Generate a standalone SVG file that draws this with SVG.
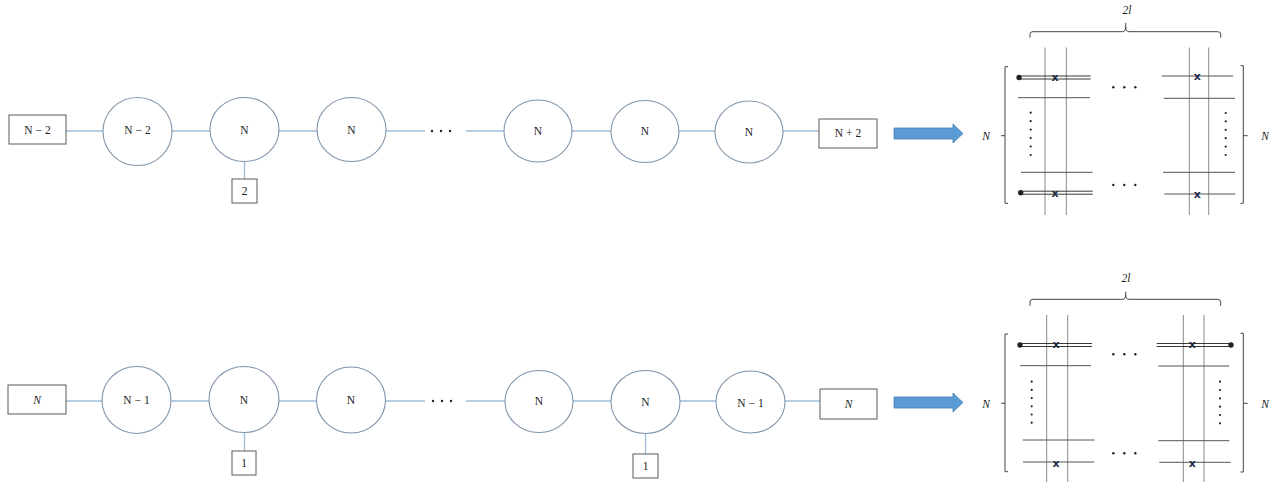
<svg xmlns="http://www.w3.org/2000/svg" width="1282" height="482" viewBox="0 0 1282 482">
<style>
.bg{fill:#ffffff}
.conn{stroke:#9fbcd8;stroke-width:1.3;fill:none}
.ell{fill:#ffffff;stroke:#8095ab;stroke-width:1.1}
.box{fill:#ffffff;stroke:#5a5a5a;stroke-width:1}
.lbl{font-family:"Liberation Serif",serif;font-size:11.5px;fill:#222;text-anchor:middle;dominant-baseline:central}
.it{font-style:italic}
.dot{fill:#222}
.vl{stroke:#8a8a8a;stroke-width:1;fill:none}
.hl{stroke:#555;stroke-width:1;fill:none}
.dl{stroke:#222;stroke-width:0.9;fill:none}
.br{stroke:#444;stroke-width:1;fill:none}
.xm{font-family:"DejaVu Sans",sans-serif;font-size:11px;font-weight:bold;fill:#1f2a44;text-anchor:middle;dominant-baseline:central}
.arrow{fill:#5b9bd5;stroke:#4a7fb0;stroke-width:0.8}
</style>
<rect class="bg" x="0" y="0" width="1282" height="482"/>

<g id="connectors">
  <line class="conn" x1="66" y1="131" x2="103" y2="131"/>
  <line class="conn" x1="172" y1="131" x2="210" y2="131"/>
  <line class="conn" x1="279" y1="131" x2="317" y2="131"/>
  <line class="conn" x1="386" y1="131" x2="425" y2="131"/>
  <line class="conn" x1="466" y1="131" x2="504" y2="131"/>
  <line class="conn" x1="572" y1="131" x2="611" y2="131"/>
  <line class="conn" x1="679" y1="131" x2="715" y2="131"/>
  <line class="conn" x1="783" y1="131" x2="819" y2="131"/>
  <line class="conn" x1="244.5" y1="161" x2="244.5" y2="179"/>
  <line class="conn" x1="66" y1="401" x2="102" y2="401"/>
  <line class="conn" x1="171" y1="401" x2="209" y2="401"/>
  <line class="conn" x1="279" y1="401" x2="317" y2="401"/>
  <line class="conn" x1="386" y1="401" x2="425" y2="401"/>
  <line class="conn" x1="466" y1="401" x2="505" y2="401"/>
  <line class="conn" x1="573" y1="401" x2="611" y2="401"/>
  <line class="conn" x1="680" y1="401" x2="716" y2="401"/>
  <line class="conn" x1="785" y1="401" x2="820" y2="401"/>
  <line class="conn" x1="244.5" y1="432" x2="244.5" y2="451"/>
  <line class="conn" x1="645.5" y1="433" x2="645.5" y2="454"/>
</g>

<g id="t_box_left"><rect class="box" x="9" y="115" width="57" height="29"/><text class="lbl" x="37.5" y="129.5">N − 2</text></g>
<g id="t_e1"><ellipse class="ell" cx="137.5" cy="131.5" rx="34.5" ry="34"/><text class="lbl" x="137.5" y="130">N − 2</text></g>
<g id="t_e2"><ellipse class="ell" cx="244.5" cy="129.5" rx="34.5" ry="32"/><text class="lbl" x="244.5" y="130">N</text></g>
<g id="t_e3"><ellipse class="ell" cx="351.5" cy="129.5" rx="34.5" ry="32"/><text class="lbl" x="351.5" y="130">N</text></g>
<g id="t_dots"><circle class="dot" cx="432" cy="131" r="1.2"/><circle class="dot" cx="441" cy="131" r="1.2"/><circle class="dot" cx="450" cy="131" r="1.2"/></g>
<g id="t_e4"><ellipse class="ell" cx="538" cy="131" rx="34" ry="31"/><text class="lbl" x="538" y="131">N</text></g>
<g id="t_e5"><ellipse class="ell" cx="645" cy="131.5" rx="34" ry="31"/><text class="lbl" x="645" y="131">N</text></g>
<g id="t_e6"><ellipse class="ell" cx="749" cy="132" rx="34" ry="31"/><text class="lbl" x="749" y="132">N</text></g>
<g id="t_box_right"><rect class="box" x="819" y="119" width="58" height="29"/><text class="lbl" x="848" y="133">N + 2</text></g>
<g id="t_box_2"><rect class="box" x="232" y="179" width="25" height="24"/><text class="lbl" x="244.5" y="191">2</text></g>
<g id="t_arrow"><polygon class="arrow" points="894,128 953,128 953,124 963,133.5 953,143 953,139 894,139"/></g>

<g id="b_box_left"><rect class="box" x="8" y="385" width="58" height="29"/><text class="lbl it" x="37" y="400">N</text></g>
<g id="b_e1"><ellipse class="ell" cx="136.5" cy="400" rx="34.5" ry="33.5"/><text class="lbl" x="136.5" y="400">N − 1</text></g>
<g id="b_e2"><ellipse class="ell" cx="244" cy="399.5" rx="35" ry="33"/><text class="lbl" x="244" y="400">N</text></g>
<g id="b_e3"><ellipse class="ell" cx="351" cy="400" rx="34.5" ry="33"/><text class="lbl" x="351" y="400">N</text></g>
<g id="b_dots"><circle class="dot" cx="433" cy="401" r="1.2"/><circle class="dot" cx="442" cy="401" r="1.2"/><circle class="dot" cx="451" cy="401" r="1.2"/></g>
<g id="b_e4"><ellipse class="ell" cx="539" cy="401.5" rx="34" ry="31"/><text class="lbl" x="539" y="401">N</text></g>
<g id="b_e5"><ellipse class="ell" cx="645.5" cy="402" rx="34.5" ry="31.5"/><text class="lbl" x="645.5" y="402">N</text></g>
<g id="b_e6"><ellipse class="ell" cx="750.5" cy="402" rx="34.5" ry="31"/><text class="lbl" x="750.5" y="403">N − 1</text></g>
<g id="b_box_right"><rect class="box" x="820" y="389" width="57" height="30"/><text class="lbl it" x="848.5" y="404">N</text></g>
<g id="b_box_1a"><rect class="box" x="232" y="451" width="24" height="24"/><text class="lbl" x="244" y="463">1</text></g>
<g id="b_box_1b"><rect class="box" x="633" y="454" width="25" height="24"/><text class="lbl" x="645.5" y="466">1</text></g>
<g id="b_arrow"><polygon class="arrow" points="894,397 953,397 953,393 963,402.5 953,412 953,408 894,408"/></g>

<g id="t_matrix">
  <text class="lbl it" x="1127" y="10">2l</text>
  <path class="br" d="M1030,37.7 L1030,34 Q1030,31.7 1033,31.7 L1122.5,31.7 Q1125.7,31.7 1125.7,27 L1125.7,23 M1125.7,27 Q1125.7,31.7 1129,31.7 L1217.5,31.7 Q1220.7,31.7 1220.7,34 L1220.7,37.7"/>
  <line class="vl" x1="1045" y1="47.5" x2="1045" y2="215"/>
  <line class="vl" x1="1066.3" y1="47.5" x2="1066.3" y2="215"/>
  <line class="vl" x1="1189.3" y1="47.5" x2="1189.3" y2="215"/>
  <line class="vl" x1="1208.7" y1="47.5" x2="1208.7" y2="215"/>
  <path class="br" d="M1008,66.7 L1005,66.7 L1005,203.3 L1008,203.3 M1005,135.7 L1001,135.7"/>
  <path class="br" d="M1240.5,65.7 L1243.3,65.7 L1243.3,203.3 L1240.5,203.3 M1243.3,135.7 L1247.7,135.7"/>
  <text class="lbl it" x="986" y="136">N</text>
  <text class="lbl it" x="1265" y="136">N</text>
  <circle class="dot" cx="1019" cy="77.5" r="2.7"/>
  <line class="dl" x1="1019" y1="76" x2="1090.7" y2="76"/>
  <line class="dl" x1="1019" y1="79" x2="1090.7" y2="79"/>
  <text class="xm" x="1055" y="77">x</text>
  <line class="hl" x1="1018" y1="97.7" x2="1090" y2="97.7"/>
  <line class="hl" x1="1021" y1="172.3" x2="1092.7" y2="172.3"/>
  <circle class="dot" cx="1020.7" cy="192.7" r="2.7"/>
  <line class="dl" x1="1020.7" y1="191.2" x2="1092.7" y2="191.2"/>
  <line class="dl" x1="1020.7" y1="194.2" x2="1092.7" y2="194.2"/>
  <text class="xm" x="1055" y="193.5">x</text>
  <g>
    <circle class="dot" cx="1030.7" cy="112.7" r="1.1"/><circle class="dot" cx="1030.7" cy="121.2" r="1.1"/><circle class="dot" cx="1030.7" cy="129.6" r="1.1"/><circle class="dot" cx="1030.7" cy="138.1" r="1.1"/><circle class="dot" cx="1030.7" cy="146.5" r="1.1"/><circle class="dot" cx="1030.7" cy="155" r="1.1"/>
  </g>
  <circle class="dot" cx="1113.3" cy="87.3" r="1.2"/><circle class="dot" cx="1124.3" cy="87.3" r="1.2"/><circle class="dot" cx="1135.3" cy="87.3" r="1.2"/>
  <circle class="dot" cx="1113.3" cy="185" r="1.2"/><circle class="dot" cx="1124.3" cy="185" r="1.2"/><circle class="dot" cx="1135.3" cy="185" r="1.2"/>
  <line class="hl" x1="1161.7" y1="76" x2="1233.3" y2="76"/>
  <text class="xm" x="1197.3" y="76">x</text>
  <line class="hl" x1="1163.7" y1="98.3" x2="1235" y2="98.3"/>
  <line class="hl" x1="1163" y1="172.3" x2="1235" y2="172.3"/>
  <line class="hl" x1="1164.3" y1="194" x2="1235.3" y2="194"/>
  <text class="xm" x="1197.3" y="194">x</text>
  <g>
    <circle class="dot" cx="1225.7" cy="113" r="1.1"/><circle class="dot" cx="1225.7" cy="121.4" r="1.1"/><circle class="dot" cx="1225.7" cy="129.8" r="1.1"/><circle class="dot" cx="1225.7" cy="138.2" r="1.1"/><circle class="dot" cx="1225.7" cy="146.6" r="1.1"/><circle class="dot" cx="1225.7" cy="155" r="1.1"/>
  </g>
</g>

<g id="b_matrix">
  <text class="lbl it" x="1126" y="277.5">2l</text>
  <path class="br" d="M1030,305.7 L1030,302 Q1030,299.3 1033,299.3 L1122.5,299.3 Q1125.7,299.3 1125.7,295 L1125.7,291.7 M1125.7,295 Q1125.7,299.3 1129,299.3 L1217.5,299.3 Q1220.7,299.3 1220.7,302 L1220.7,305.7"/>
  <line class="vl" x1="1046.7" y1="315" x2="1046.7" y2="482"/>
  <line class="vl" x1="1067.7" y1="315" x2="1067.7" y2="482"/>
  <line class="vl" x1="1183.3" y1="315" x2="1183.3" y2="482"/>
  <line class="vl" x1="1204" y1="315" x2="1204" y2="482"/>
  <path class="br" d="M1008,334 L1005,334 L1005,471.7 L1008,471.7 M1005,403.3 L1001,403.3"/>
  <path class="br" d="M1240.5,333.3 L1243.3,333.3 L1243.3,472 L1240.5,472 M1243.3,403.3 L1247.7,403.3"/>
  <text class="lbl it" x="986" y="403.5">N</text>
  <text class="lbl it" x="1265" y="403.5">N</text>
  <circle class="dot" cx="1020" cy="345" r="2.7"/>
  <line class="dl" x1="1020" y1="343.5" x2="1092" y2="343.5"/>
  <line class="dl" x1="1020" y1="346.5" x2="1092" y2="346.5"/>
  <text class="xm" x="1056" y="344.5">x</text>
  <line class="hl" x1="1020" y1="365.7" x2="1091" y2="365.7"/>
  <line class="hl" x1="1022.7" y1="440" x2="1094.3" y2="440"/>
  <line class="hl" x1="1023" y1="462" x2="1094.3" y2="462"/>
  <text class="xm" x="1056" y="463">x</text>
  <g>
    <circle class="dot" cx="1031.7" cy="381.7" r="1.1"/><circle class="dot" cx="1031.7" cy="389.9" r="1.1"/><circle class="dot" cx="1031.7" cy="398.1" r="1.1"/><circle class="dot" cx="1031.7" cy="406.3" r="1.1"/><circle class="dot" cx="1031.7" cy="414.5" r="1.1"/><circle class="dot" cx="1031.7" cy="422.7" r="1.1"/>
  </g>
  <circle class="dot" cx="1113.3" cy="354.3" r="1.2"/><circle class="dot" cx="1124.3" cy="354.3" r="1.2"/><circle class="dot" cx="1135.3" cy="354.3" r="1.2"/>
  <circle class="dot" cx="1113.3" cy="453.3" r="1.2"/><circle class="dot" cx="1124.3" cy="453.3" r="1.2"/><circle class="dot" cx="1135.3" cy="453.3" r="1.2"/>
  <line class="dl" x1="1156.7" y1="343.5" x2="1231" y2="343.5"/>
  <line class="dl" x1="1156.7" y1="346.5" x2="1231" y2="346.5"/>
  <circle class="dot" cx="1231" cy="345" r="2.7"/>
  <text class="xm" x="1192.3" y="344.5">x</text>
  <line class="hl" x1="1158.3" y1="366" x2="1229.3" y2="366"/>
  <line class="hl" x1="1158.3" y1="440.7" x2="1229.3" y2="440.7"/>
  <line class="hl" x1="1159.3" y1="462.3" x2="1230.7" y2="462.3"/>
  <text class="xm" x="1192.3" y="463">x</text>
  <g>
    <circle class="dot" cx="1220" cy="381.7" r="1.1"/><circle class="dot" cx="1220" cy="390" r="1.1"/><circle class="dot" cx="1220" cy="398.4" r="1.1"/><circle class="dot" cx="1220" cy="406.7" r="1.1"/><circle class="dot" cx="1220" cy="415" r="1.1"/><circle class="dot" cx="1220" cy="423.3" r="1.1"/>
  </g>
</g>
</svg>
